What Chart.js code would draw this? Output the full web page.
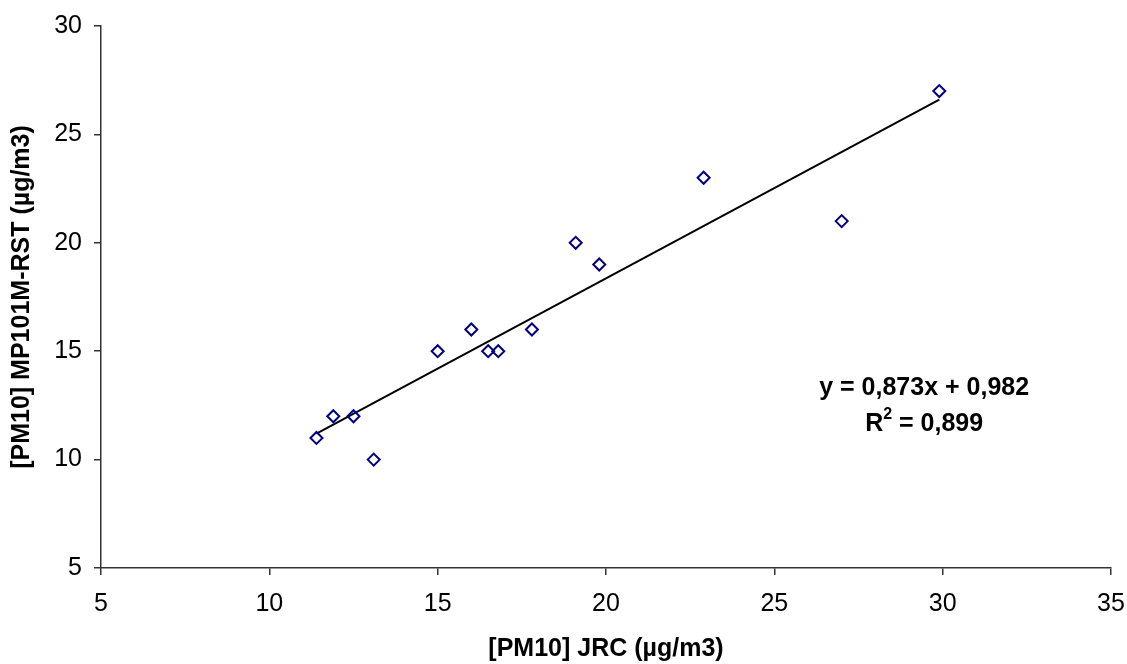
<!DOCTYPE html>
<html>
<head>
<meta charset="utf-8">
<script src="https://cdn.jsdelivr.net/npm/chart.js@4/dist/chart.umd.min.js"></script>
<style>
  html, body { margin: 0; padding: 0; background: #fff; }
  #wrap { width: 1127px; height: 664px; }
</style>
</head>
<body>
<div id="wrap"><canvas id="scatterChart" width="1127" height="664"></canvas></div>
<script>
// Data
const jrcValues = [11.4, 11.9, 12.5, 13.1, 15.0, 16.0, 16.5, 16.8, 17.8, 19.1, 19.8, 22.9, 27.0, 29.9];
const mp101Values = [11, 12, 12, 10, 15, 16, 15, 15, 16, 20, 19, 23, 21, 27];

// Trend line end points, as drawn
const trendX = [11.4, 29.9];
const trendY = [11.2, 26.6];

const xTicks = [5, 10, 15, 20, 25, 30, 35];
const yTicks = [5, 10, 15, 20, 25, 30];

const equationText = 'y = 0,873x + 0,982';
const r2Text = '0,899';
const equationPos = { x: 29.45, y: 13.3 };
const r2Pos = { x: 29.45, y: 11.65 };

const FONT = "'Liberation Sans', Arial, sans-serif";
const FONT_SIZE = 25;
const AXIS_COLOR = '#333333';

const scatterPoints = jrcValues.map((x, i) => ({ x: x, y: mp101Values[i] }));
const trendPoints = trendX.map((x, i) => ({ x: x, y: trendY[i] }));

// draws the regression equation text
const equationPlugin = {
    id: 'equationPlugin',
    afterDraw(chart) {
        const ctx = chart.ctx;
        const xs = chart.scales.x;
        const ys = chart.scales.y;
        const big = 'bold ' + FONT_SIZE + 'px ' + FONT;
        const small = 'bold 16px ' + FONT;
        ctx.save();
        ctx.fillStyle = '#000';
        ctx.textAlign = 'center';
        ctx.textBaseline = 'middle';
        ctx.font = big;
        ctx.fillText(equationText, xs.getPixelForValue(equationPos.x), ys.getPixelForValue(equationPos.y));

        // R² line with superscript
        const cx = xs.getPixelForValue(r2Pos.x);
        const cy = ys.getPixelForValue(r2Pos.y);
        const partR = 'R';
        const partRest = ' = ' + r2Text;
        ctx.font = big;
        const wR = ctx.measureText(partR).width;
        const wRest = ctx.measureText(partRest).width;
        ctx.font = small;
        const wSup = ctx.measureText('2').width;
        const left = cx - (wR + wSup + wRest) / 2;
        ctx.textAlign = 'left';
        ctx.font = big;
        ctx.fillText(partR, left, cy);
        ctx.font = small;
        ctx.fillText('2', left + wR, cy - 9);
        ctx.font = big;
        ctx.fillText(partRest, left + wR + wSup, cy);
        ctx.restore();
    }
};

const ctx = document.getElementById('scatterChart').getContext('2d');
new Chart(ctx, {
    type: 'scatter',
    data: {
        datasets: [{
            label: 'MP101M-RST',
            data: scatterPoints,
            pointStyle: 'rectRot',
            pointRadius: 6,
            pointHoverRadius: 6,
            pointBorderWidth: 2,
            pointBorderColor: '#000080',
            pointBackgroundColor: 'rgba(0,0,0,0)',
            showLine: false,
            order: 1
        }, {
            label: 'Trend',
            data: trendPoints,
            showLine: true,
            borderColor: '#000',
            borderWidth: 2,
            pointRadius: 0,
            fill: false,
            order: 2
        }]
    },
    options: {
        responsive: false,
        animation: false,
        devicePixelRatio: 1,
        layout: { padding: { top: 26, right: 16, left: 0, bottom: 0 } },
        plugins: {
            legend: { display: false },
            tooltip: { enabled: false }
        },
        scales: {
            x: {
                type: 'linear',
                min: 5,
                max: 35,
                afterBuildTicks: (scale) => { scale.ticks = xTicks.map(v => ({ value: v })); },
                afterFit: (scale) => {
                    scale.height = 96;
                    scale.paddingLeft = 0;
                    scale.paddingRight = 0;
                },
                border: { display: true, color: AXIS_COLOR, width: 1.5 },
                grid: { display: true, drawOnChartArea: false, drawTicks: true, tickLength: 7, color: AXIS_COLOR, lineWidth: 1.5 },
                ticks: { color: '#000', padding: 14, maxRotation: 0, font: { family: FONT, size: FONT_SIZE } },
                title: {
                    display: true,
                    text: '[PM10] JRC (µg/m3)',
                    color: '#000',
                    font: { family: FONT, size: FONT_SIZE, weight: 'bold' },
                    padding: { top: 0, bottom: 0 }
                }
            },
            y: {
                type: 'linear',
                min: 5,
                max: 30,
                afterBuildTicks: (scale) => { scale.ticks = yTicks.map(v => ({ value: v })); },
                afterFit: (scale) => {
                    scale.width = 101;
                    scale.paddingTop = 0;
                    scale.paddingBottom = 0;
                },
                border: { display: true, color: AXIS_COLOR, width: 1.5 },
                grid: { display: true, drawOnChartArea: false, drawTicks: true, tickLength: 7, color: AXIS_COLOR, lineWidth: 1.5 },
                ticks: { color: '#000', padding: 12, font: { family: FONT, size: FONT_SIZE } },
                title: {
                    display: true,
                    text: '[PM10] MP101M-RST (µg/m3)',
                    color: '#000',
                    font: { family: FONT, size: FONT_SIZE, weight: 'bold' },
                    padding: { top: 7, bottom: 0 }
                }
            }
        }
    },
    plugins: [equationPlugin]
});
</script>
</body>
</html>
